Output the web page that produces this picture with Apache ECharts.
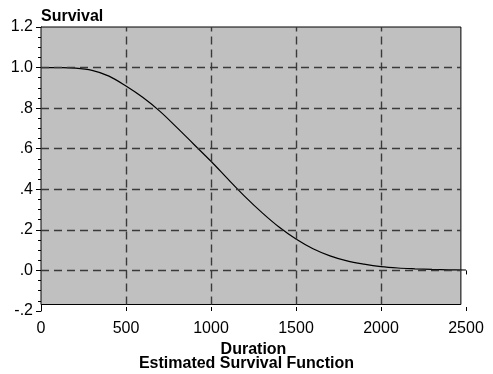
<!DOCTYPE html>
<html>
<head>
<meta charset="utf-8">
<script src="https://cdn.jsdelivr.net/npm/echarts@6/dist/echarts.min.js"></script>
<style>
  html, body { margin: 0; padding: 0; background: #fff; }
  #chart { width: 493px; height: 374px; }
</style>
</head>
<body>
<div id="chart"></div>
<script>
// Estimated survival function S(t) against duration
const durations = [0, 100, 200, 300, 400, 500, 600, 700, 800, 900, 1000, 1100, 1200,
  1300, 1400, 1500, 1600, 1700, 1800, 1900, 2000, 2100, 2200, 2300, 2400, 2500];
const survival = [1.000, 0.9995, 0.997, 0.986, 0.958, 0.909, 0.852, 0.784, 0.704, 0.621,
  0.538, 0.450, 0.364, 0.285, 0.214, 0.155, 0.107, 0.072, 0.047, 0.031, 0.019, 0.012,
  0.008, 0.005, 0.003, 0.002];

// Reference lines drawn as dashed grid
const xGridValues = [500, 1000, 1500, 2000];
const yGridValues = [0.0, 0.2, 0.4, 0.6, 0.8, 1.0];

// Axis ranges
const xMin = 0, xMax = 2500, xStep = 500;
const yMin = -0.2, yMax = 1.2, yStep = 0.2;

// Extent of the shaded plot frame (data units)
const frameX = [0, 2470];
const frameY = [-0.168, 1.2];

const FONT = "'Liberation Sans', Arial, sans-serif";

function fmtY(v) {
  return v.toFixed(1).replace(/^(-?)0\./, '$1.');
}

const chart = echarts.init(document.getElementById('chart'), null, { renderer: 'canvas' });

chart.setOption({
  animation: false,
  backgroundColor: '#ffffff',
  textStyle: { fontFamily: FONT },
  title: [
    {
      text: 'Survival', left: 41, top: 9, padding: 0,
      textStyle: { fontFamily: FONT, fontSize: 16, fontWeight: 'bold', color: '#000' }
    },
    {
      text: 'Estimated Survival Function', left: 'center', top: 356, padding: 0,
      textStyle: { fontFamily: FONT, fontSize: 16, fontWeight: 'bold', color: '#000' }
    }
  ],
  grid: { left: 41, right: 27, top: 27, bottom: 63, containLabel: false },
  xAxis: [
    {
      type: 'value', position: 'bottom',
      min: xMin, max: xMax, interval: xStep,
      name: 'Duration', nameLocation: 'middle', nameGap: 29,
      nameTextStyle: { fontFamily: FONT, fontSize: 16, fontWeight: 'bold', color: '#000' },
      axisLine: { show: false },
      axisTick: { show: true, length: 4, lineStyle: { color: '#000', width: 1 } },
      minorTick: { show: true, splitNumber: 5, length: 2, lineStyle: { color: '#000', width: 1 } },
      axisLabel: { fontFamily: FONT, fontSize: 16, color: '#000', margin: 10,
        formatter: v => String(v) },
      splitLine: { show: false }
    },
    {
      type: 'value', position: 'bottom',
      min: xMin, max: xMax, interval: xStep,
      axisLine: { show: false },
      axisTick: { show: true, inside: true, length: 4, lineStyle: { color: '#000', width: 1 } },
      axisLabel: { show: false },
      splitLine: { show: false }
    }
  ],
  yAxis: {
    type: 'value',
    min: yMin, max: yMax, interval: yStep,
    axisLine: { show: true, lineStyle: { color: '#000', width: 1 } },
    axisTick: { show: true, length: 5, lineStyle: { color: '#000', width: 1 } },
    minorTick: { show: true, splitNumber: 4, length: 3, lineStyle: { color: '#000', width: 1 } },
    axisLabel: { fontFamily: FONT, fontSize: 16, color: '#000', margin: 8, formatter: fmtY },
    splitLine: { show: false }
  },
  series: [
    {
      // shaded plot frame
      type: 'line', data: [], z: 0, silent: true,
      markArea: {
        silent: true,
        itemStyle: { color: '#c0c0c0', borderColor: '#000', borderWidth: 1 },
        data: [[{ xAxis: frameX[0], yAxis: frameY[0] }, { xAxis: frameX[1], yAxis: frameY[1] }]]
      }
    },
    {
      // dashed reference grid
      type: 'line', data: [], z: 1, silent: true,
      markLine: {
        silent: true, symbol: 'none', label: { show: false },
        lineStyle: { color: '#3a3a3a', width: 1.4, type: [8, 5] },
        data: xGridValues.map(v => [{ coord: [v, frameY[0]] }, { coord: [v, frameY[1]] }])
          .concat(yGridValues.map(v => [{ coord: [frameX[0], v] }, { coord: [frameX[1], v] }]))
      }
    },
    {
      name: 'Survival',
      type: 'line', z: 3,
      data: durations.map((d, i) => [d, survival[i]]),
      smooth: 0.35, showSymbol: false, symbol: 'none',
      lineStyle: { color: '#000', width: 1.2 }
    }
  ]
});
</script>
</body>
</html>
